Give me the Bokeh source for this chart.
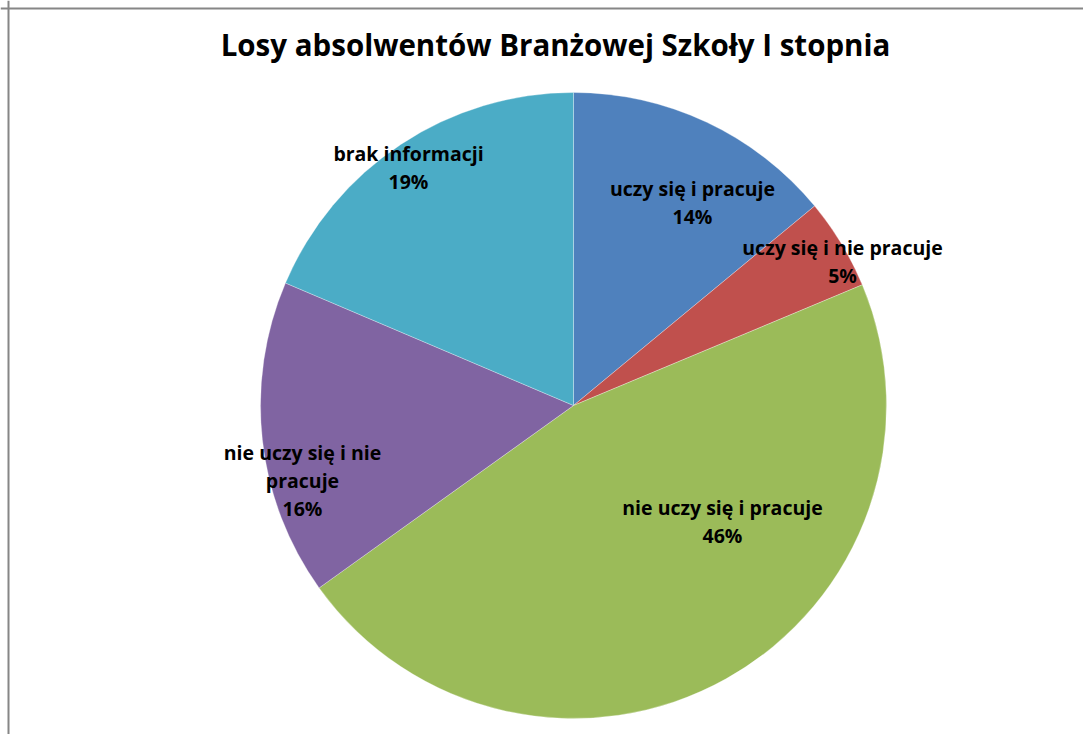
import math
from bokeh.plotting import figure
from bokeh.models import Range1d, Span, ColumnDataSource, Label
from bokeh.core.properties import value
from bokeh.embed import file_html
from bokeh.resources import INLINE

# ---- data ----
title_text = "Losy absolwentów Branżowej Szkoły I stopnia"
categories = ["uczy się i pracuje", "uczy się i nie pracuje", "nie uczy się i pracuje",
              "nie uczy się i nie\npracuje", "brak informacji"]
shares = [14.0, 4.7, 46.4, 16.3, 18.6]
colors = ["#4F81BD", "#C0504D", "#9BBB59", "#8064A2", "#4BACC6"]

# ---- layout (pixels relative to pie centre) ----
W, H = 1083, 734
cx, cy = 573, 405          # pie centre in figure pixel coordinates
R = 313
label_offsets = [(119, 203), (269, 144), (149, -116), (-271, -75), (-165, 238)]

p = figure(width=W, height=H, output_backend="svg", toolbar_location=None,
           x_range=Range1d(-cx, W - cx), y_range=Range1d(cy - H, cy),
           min_border=0, outline_line_color=None, background_fill_color="white",
           border_fill_color="white")
p.axis.visible = False
p.grid.visible = False

total = sum(shares)
starts, ends = [], []
cum = 0.0
for s in shares:
    starts.append(math.pi / 2 - 2 * math.pi * cum / total)
    cum += s
    ends.append(math.pi / 2 - 2 * math.pi * cum / total)

src = ColumnDataSource(dict(start=starts, end=ends, color=colors))
p.wedge(x=0, y=0, radius=R, start_angle="start", end_angle="end", direction="clock",
        fill_color="color", line_color="white", line_width=0.6, line_alpha=0.5, source=src)

labels = [f"{c}\n{round(s * 100 / total)}%" for c, s in zip(categories, shares)]
lsrc = ColumnDataSource(dict(x=[o[0] for o in label_offsets], y=[o[1] for o in label_offsets],
                             text=labels))
p.text(x="x", y="y", text="text", source=lsrc, text_align="center", text_baseline="middle",
       text_font=value("Open Sans"), text_font_style="bold", text_font_size="19.5px",
       text_line_height=1.04, text_color="black")

p.add_layout(Label(x=555 - cx, y=cy - 44, text=title_text, text_align="center",
                   text_baseline="middle", text_font="Open Sans", text_font_style="bold",
                   text_font_size="29.5px", text_color="black"))

p.add_layout(Span(location=8 - cx, dimension="height", line_color="#868686", line_width=2))
p.add_layout(Span(location=cy - 8, dimension="width", line_color="#868686", line_width=2))

open("out.html", "w").write(file_html(p, INLINE))
